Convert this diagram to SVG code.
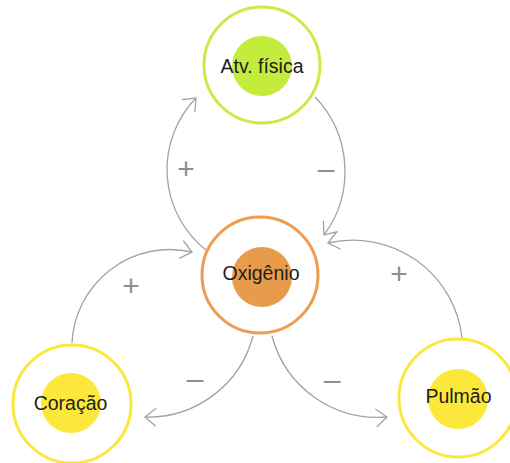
<svg xmlns="http://www.w3.org/2000/svg" width="510" height="463" viewBox="0 0 510 463">
  <defs>
    <style>
      .ring { fill: #ffffff; stroke-width: 3; }
      .label { font-family: "Liberation Sans", Arial, sans-serif; font-size: 19.5px; fill: #1e1e1e; text-anchor: middle; }
      .link { fill: none; stroke: #a3a3a3; stroke-width: 1.3; marker-end: url(#arrow); }
      .sign { font-family: "Liberation Sans", Arial, sans-serif; font-size: 30px; fill: #8e8e8e; text-anchor: middle; }
      .lime .ring { stroke: #c7ec48; }
      .lime .core { fill: #c3ec3c; }
      .orange .ring { stroke: #ed9c52; }
      .orange .core { fill: #e99b4c; }
      .yellow .ring { stroke: #fbe83e; }
      .yellow .core { fill: #fbe83a; }
    </style>
    <marker id="arrow" markerUnits="userSpaceOnUse" markerWidth="30" markerHeight="30" viewBox="-15 -15 30 30" refX="0" refY="0" orient="auto" overflow="visible">
      <path d="M-11,-9 L0,0 L-11,9" fill="none" stroke="#a3a3a3" stroke-width="1.3"/>
    </marker>
  </defs>

  <!-- curved feedback connectors, each a circular arc -->
  <g id="connectors">
    <path class="link" d="M206,250 A102.6,102.6 0 0 1 196,98"/>
    <path class="link" d="M315,97 A107.1,107.1 0 0 1 324,235"/>
    <path class="link" d="M462,338 A109.7,109.7 0 0 0 328,243"/>
    <path class="link" d="M72,343 A98.1,98.1 0 0 1 192,252"/>
    <path class="link" d="M253,336 A108.4,108.4 0 0 1 145,417"/>
    <path class="link" d="M272,336 A109.2,109.2 0 0 0 387,417"/>
    <text class="sign" x="186" y="179">+</text>
    <text class="sign" x="326" y="178.5">–</text>
    <text class="sign" x="399" y="284">+</text>
    <text class="sign" x="131" y="296">+</text>
    <text class="sign" x="195" y="388.5">–</text>
    <text class="sign" x="332" y="389.5">–</text>
  </g>

  <g id="atv-fisica" class="lime">
    <circle class="ring" cx="262" cy="65" r="58"/>
    <circle class="core" cx="262" cy="66" r="30"/>
    <text class="label" x="262" y="73">Atv. física</text>
  </g>

  <g id="oxigenio" class="orange">
    <circle class="ring" cx="260" cy="275" r="58"/>
    <circle class="core" cx="262" cy="277" r="30"/>
    <text class="label" x="261" y="280">Oxigênio</text>
  </g>

  <g id="coracao" class="yellow">
    <circle class="ring" cx="72" cy="404" r="59"/>
    <circle class="core" cx="71" cy="403" r="30"/>
    <text class="label" x="70.5" y="410">Coração</text>
  </g>

  <g id="pulmao" class="yellow">
    <circle class="ring" cx="458" cy="398" r="59"/>
    <circle class="core" cx="458" cy="399" r="30"/>
    <text class="label" x="458.5" y="403">Pulmão</text>
  </g>
</svg>
